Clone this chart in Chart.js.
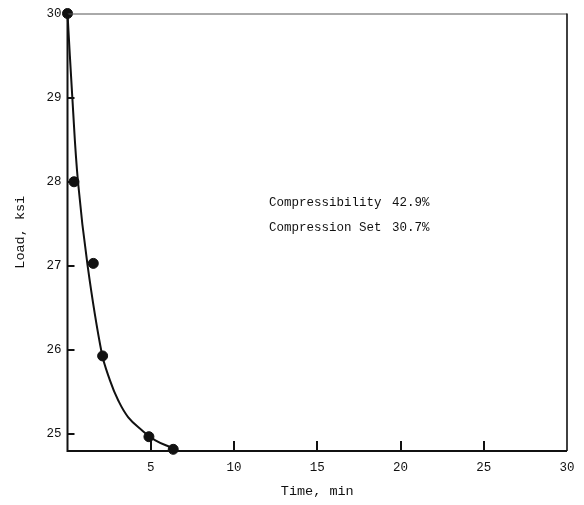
<!DOCTYPE html>
<html>
<head>
<meta charset="utf-8">
<script src="https://cdn.jsdelivr.net/npm/chart.js@4/dist/chart.umd.min.js"></script>
<style>
    body { margin: 0; background: #fff; }
    canvas { display: block; }
</style>
</head>
<body>
<canvas id="relaxation" width="584" height="505"></canvas>
<script>
// measured load relaxation points (time in min, load in ksi)
const measTime = [0, 0.39, 1.55, 2.11, 4.89, 6.35];
const measLoad = [30, 28, 27.03, 25.93, 24.97, 24.82];

// hand-faired curve through the measurements
const curveTime = [0, 0.29, 0.63, 1.21, 2.05, 2.55, 3.05, 3.65, 4.45, 5.25, 6.35];
const curveLoad = [30, 29, 28, 27, 25.97, 25.64, 25.40, 25.20, 25.05, 24.93, 24.83];

const xTicks = [0, 5, 10, 15, 20, 25, 30];
const yTicks = [25, 26, 27, 28, 29, 30];

const notes = [
    ['Compressibility', '42.9%'],
    ['Compression Set', '30.7%']
];

const ink = '#111';
const mono = 'Liberation Mono';

const toPoints = (xs, ys) => xs.map((x, i) => ({ x: x, y: ys[i] }));

// box, inward tick marks and the text notes
const framePlugin = {
    id: 'frame',
    afterDatasetsDraw(chart) {
        const ctx = chart.ctx;
        const { left, right, top, bottom } = chart.chartArea;
        const xs = chart.scales.x;
        const ys = chart.scales.y;
        ctx.save();
        ctx.lineCap = 'butt';

        // top (thin, faded) and right edges
        ctx.lineWidth = 1;
        ctx.strokeStyle = '#555';
        ctx.beginPath();
        ctx.moveTo(left, top + 0.5);
        ctx.lineTo(right, top + 0.5);
        ctx.stroke();
        ctx.strokeStyle = ink;
        ctx.lineWidth = 1.6;
        ctx.beginPath();
        ctx.moveTo(right, top);
        ctx.lineTo(right, bottom);
        ctx.stroke();

        // axes
        ctx.lineWidth = 2;
        ctx.beginPath();
        ctx.moveTo(left, top);
        ctx.lineTo(left, bottom);
        ctx.lineTo(right, bottom);
        ctx.stroke();

        // tick marks pointing into the plot
        ctx.beginPath();
        xTicks.slice(1, -1).forEach(v => {
            const px = Math.round(xs.getPixelForValue(v));
            ctx.moveTo(px, bottom);
            ctx.lineTo(px, bottom - 10);
        });
        yTicks.slice(0, -1).forEach(v => {
            const py = Math.round(ys.getPixelForValue(v));
            ctx.moveTo(left, py);
            ctx.lineTo(left + 7, py);
        });
        ctx.stroke();

        // notes
        ctx.fillStyle = ink;
        ctx.font = '12.5px "' + mono + '"';
        ctx.textBaseline = 'middle';
        notes.forEach((n, i) => {
            const y = 203 + i * 25;
            ctx.fillText(n[0], 269, y);
            ctx.fillText(n[1], 392, y);
        });
        ctx.restore();
    }
};

Chart.defaults.font.family = mono;
Chart.defaults.color = ink;

new Chart(document.getElementById('relaxation'), {
    type: 'scatter',
    data: {
        datasets: [{
            label: 'curve',
            data: toPoints(curveTime, curveLoad),
            showLine: true,
            borderColor: ink,
            borderWidth: 2,
            pointRadius: 0,
            tension: 0.4,
            clip: false
        },
        {
            label: 'measured',
            data: toPoints(measTime, measLoad),
            showLine: false,
            backgroundColor: ink,
            borderColor: ink,
            pointRadius: 5,
            pointHoverRadius: 5,
            clip: false
        }]
    },
    options: {
        responsive: false,
        animation: false,
        events: [],
        layout: { padding: { top: 11, right: 17, left: 0, bottom: 0 } },
        plugins: {
            legend: { display: false },
            tooltip: { enabled: false }
        },
        scales: {
            x: {
                type: 'linear',
                min: 0,
                max: 30,
                afterBuildTicks: s => { s.ticks = xTicks.map(v => ({ value: v })); },
                afterFit: s => { s.height = 54; },
                grid: { display: false, drawTicks: false },
                border: { display: false },
                ticks: {
                    padding: 9,
                    maxRotation: 0,
                    font: { size: 12.5 },
                    callback: v => (v === 0 ? '' : v)
                },
                title: {
                    display: true,
                    text: 'Time, min',
                    font: { size: 13.5 },
                    padding: { top: 0, bottom: 5 }
                }
            },
            y: {
                type: 'linear',
                min: 24.8,
                max: 30,
                afterBuildTicks: s => { s.ticks = yTicks.map(v => ({ value: v })); },
                afterFit: s => { s.width = 67.5; },
                grid: { display: false, drawTicks: false },
                border: { display: false },
                ticks: {
                    padding: 6,
                    font: { size: 12.5 }
                },
                title: {
                    display: true,
                    text: 'Load, ksi',
                    font: { size: 13.5 },
                    padding: { top: 12, bottom: 0 }
                }
            }
        }
    },
    plugins: [framePlugin]
});
</script>
</body>
</html>
